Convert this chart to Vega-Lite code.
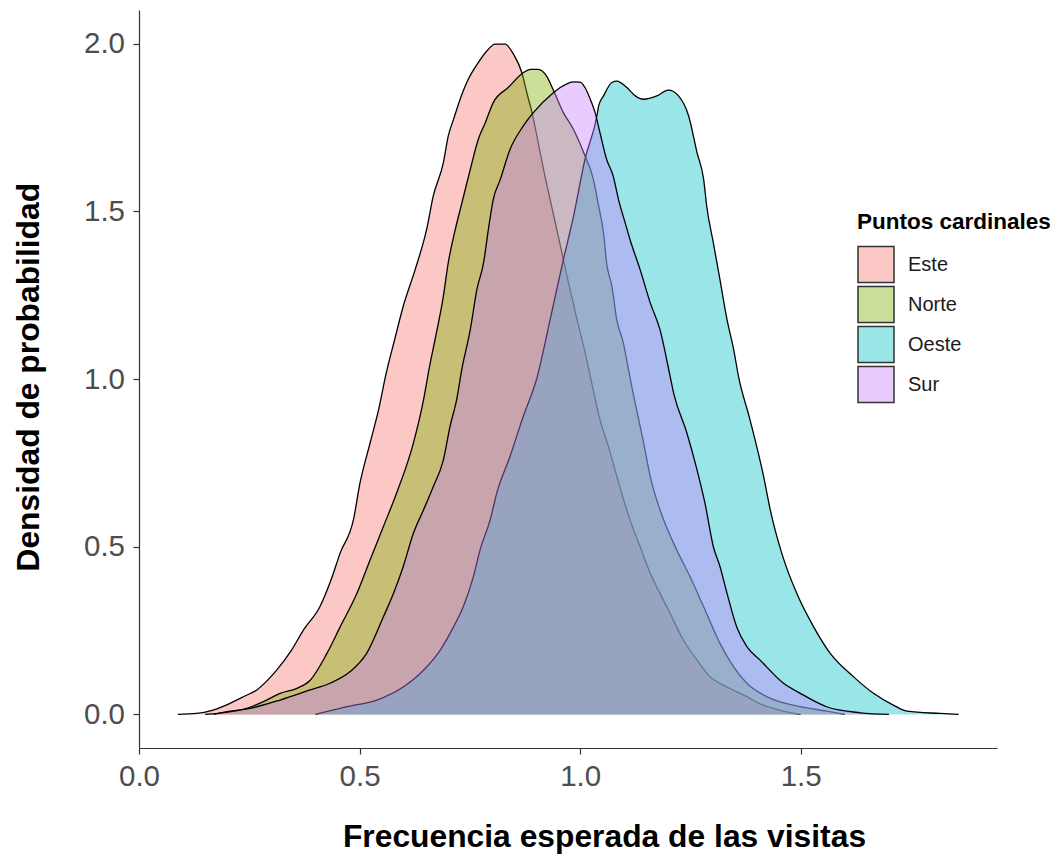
{
  "$schema": "https://vega.github.io/schema/vega-lite/v6.json",
  "autosize": {"type": "none"},
  "width": 858,
  "height": 738,
  "padding": {"left": 139, "top": 10, "right": 63, "bottom": 108},
  "background": "white",
  "config": {
    "view": {"stroke": null},
    "font": "Liberation Sans",
    "axis": {
      "grid": false,
      "domainColor": "#333333",
      "domainWidth": 1.2,
      "tickColor": "#333333",
      "tickWidth": 1.2,
      "tickSize": 6,
      "labelPadding": 8.5,
      "labelFlush": false,
      "labelFont": "Liberation Sans",
      "labelFontSize": 29.5,
      "labelColor": "#4D4D4D",
      "titleFont": "Liberation Sans",
      "titleFontSize": 31.8,
      "titleFontWeight": "bold",
      "titleColor": "#000000"
    }
  },
  "data": {
    "values": [
      {"g": "Este", "x": 0.088, "d": 0},
      {"g": "Este", "x": 0.13, "d": 0.003},
      {"g": "Este", "x": 0.168, "d": 0.013},
      {"g": "Este", "x": 0.206, "d": 0.033},
      {"g": "Este", "x": 0.24, "d": 0.055},
      {"g": "Este", "x": 0.267, "d": 0.073},
      {"g": "Este", "x": 0.29, "d": 0.1},
      {"g": "Este", "x": 0.312, "d": 0.132},
      {"g": "Este", "x": 0.345, "d": 0.19},
      {"g": "Este", "x": 0.373, "d": 0.252},
      {"g": "Este", "x": 0.41, "d": 0.321},
      {"g": "Este", "x": 0.435, "d": 0.4},
      {"g": "Este", "x": 0.456, "d": 0.481},
      {"g": "Este", "x": 0.486, "d": 0.58},
      {"g": "Este", "x": 0.501, "d": 0.69},
      {"g": "Este", "x": 0.524, "d": 0.81},
      {"g": "Este", "x": 0.543, "d": 0.908},
      {"g": "Este", "x": 0.56, "d": 1.015},
      {"g": "Este", "x": 0.58, "d": 1.12},
      {"g": "Este", "x": 0.599, "d": 1.217},
      {"g": "Este", "x": 0.626, "d": 1.326},
      {"g": "Este", "x": 0.652, "d": 1.446},
      {"g": "Este", "x": 0.667, "d": 1.545},
      {"g": "Este", "x": 0.69, "d": 1.645},
      {"g": "Este", "x": 0.701, "d": 1.724},
      {"g": "Este", "x": 0.713, "d": 1.774},
      {"g": "Este", "x": 0.732, "d": 1.849},
      {"g": "Este", "x": 0.743, "d": 1.884},
      {"g": "Este", "x": 0.769, "d": 1.943},
      {"g": "Este", "x": 0.79, "d": 1.98},
      {"g": "Este", "x": 0.807, "d": 1.998},
      {"g": "Este", "x": 0.83, "d": 1.998},
      {"g": "Este", "x": 0.849, "d": 1.968},
      {"g": "Este", "x": 0.868, "d": 1.913},
      {"g": "Este", "x": 0.879, "d": 1.854},
      {"g": "Este", "x": 0.89, "d": 1.799},
      {"g": "Este", "x": 0.902, "d": 1.724},
      {"g": "Este", "x": 0.917, "d": 1.625},
      {"g": "Este", "x": 0.932, "d": 1.535},
      {"g": "Este", "x": 0.947, "d": 1.446},
      {"g": "Este", "x": 0.962, "d": 1.356},
      {"g": "Este", "x": 0.977, "d": 1.267},
      {"g": "Este", "x": 0.993, "d": 1.177},
      {"g": "Este", "x": 1.008, "d": 1.097},
      {"g": "Este", "x": 1.023, "d": 1.008},
      {"g": "Este", "x": 1.045, "d": 0.879},
      {"g": "Este", "x": 1.064, "d": 0.799},
      {"g": "Este", "x": 1.079, "d": 0.729},
      {"g": "Este", "x": 1.094, "d": 0.66},
      {"g": "Este", "x": 1.113, "d": 0.58},
      {"g": "Este", "x": 1.136, "d": 0.5},
      {"g": "Este", "x": 1.159, "d": 0.421},
      {"g": "Este", "x": 1.181, "d": 0.361},
      {"g": "Este", "x": 1.204, "d": 0.301},
      {"g": "Este", "x": 1.234, "d": 0.222},
      {"g": "Este", "x": 1.265, "d": 0.162},
      {"g": "Este", "x": 1.295, "d": 0.112},
      {"g": "Este", "x": 1.333, "d": 0.082},
      {"g": "Este", "x": 1.378, "d": 0.053},
      {"g": "Este", "x": 1.41, "d": 0.03},
      {"g": "Este", "x": 1.438, "d": 0.018},
      {"g": "Este", "x": 1.47, "d": 0.007},
      {"g": "Este", "x": 1.5, "d": 0},

      {"g": "Norte", "x": 0.15, "d": 0},
      {"g": "Norte", "x": 0.2, "d": 0.006},
      {"g": "Norte", "x": 0.244, "d": 0.018},
      {"g": "Norte", "x": 0.282, "d": 0.038},
      {"g": "Norte", "x": 0.32, "d": 0.063},
      {"g": "Norte", "x": 0.358, "d": 0.078},
      {"g": "Norte", "x": 0.388, "d": 0.102},
      {"g": "Norte", "x": 0.426, "d": 0.182},
      {"g": "Norte", "x": 0.456, "d": 0.261},
      {"g": "Norte", "x": 0.494, "d": 0.361},
      {"g": "Norte", "x": 0.524, "d": 0.461},
      {"g": "Norte", "x": 0.554, "d": 0.56},
      {"g": "Norte", "x": 0.584, "d": 0.66},
      {"g": "Norte", "x": 0.622, "d": 0.809},
      {"g": "Norte", "x": 0.645, "d": 0.938},
      {"g": "Norte", "x": 0.659, "d": 1.04},
      {"g": "Norte", "x": 0.671, "d": 1.117},
      {"g": "Norte", "x": 0.69, "d": 1.247},
      {"g": "Norte", "x": 0.701, "d": 1.346},
      {"g": "Norte", "x": 0.717, "d": 1.446},
      {"g": "Norte", "x": 0.732, "d": 1.525},
      {"g": "Norte", "x": 0.751, "d": 1.625},
      {"g": "Norte", "x": 0.769, "d": 1.714},
      {"g": "Norte", "x": 0.785, "d": 1.764},
      {"g": "Norte", "x": 0.803, "d": 1.824},
      {"g": "Norte", "x": 0.837, "d": 1.869},
      {"g": "Norte", "x": 0.871, "d": 1.913},
      {"g": "Norte", "x": 0.887, "d": 1.923},
      {"g": "Norte", "x": 0.905, "d": 1.923},
      {"g": "Norte", "x": 0.924, "d": 1.903},
      {"g": "Norte", "x": 0.94, "d": 1.859},
      {"g": "Norte", "x": 0.962, "d": 1.794},
      {"g": "Norte", "x": 0.985, "d": 1.744},
      {"g": "Norte", "x": 1.008, "d": 1.675},
      {"g": "Norte", "x": 1.03, "d": 1.595},
      {"g": "Norte", "x": 1.042, "d": 1.515},
      {"g": "Norte", "x": 1.053, "d": 1.436},
      {"g": "Norte", "x": 1.06, "d": 1.346},
      {"g": "Norte", "x": 1.072, "d": 1.276},
      {"g": "Norte", "x": 1.083, "d": 1.177},
      {"g": "Norte", "x": 1.098, "d": 1.107},
      {"g": "Norte", "x": 1.108, "d": 1.04},
      {"g": "Norte", "x": 1.117, "d": 0.978},
      {"g": "Norte", "x": 1.144, "d": 0.809},
      {"g": "Norte", "x": 1.159, "d": 0.709},
      {"g": "Norte", "x": 1.181, "d": 0.61},
      {"g": "Norte", "x": 1.212, "d": 0.51},
      {"g": "Norte", "x": 1.249, "d": 0.411},
      {"g": "Norte", "x": 1.28, "d": 0.321},
      {"g": "Norte", "x": 1.317, "d": 0.212},
      {"g": "Norte", "x": 1.348, "d": 0.142},
      {"g": "Norte", "x": 1.378, "d": 0.093},
      {"g": "Norte", "x": 1.423, "d": 0.053},
      {"g": "Norte", "x": 1.499, "d": 0.023},
      {"g": "Norte", "x": 1.559, "d": 0.01},
      {"g": "Norte", "x": 1.6, "d": 0},

      {"g": "Oeste", "x": 0.4, "d": 0},
      {"g": "Oeste", "x": 0.471, "d": 0.023},
      {"g": "Oeste", "x": 0.539, "d": 0.043},
      {"g": "Oeste", "x": 0.599, "d": 0.082},
      {"g": "Oeste", "x": 0.645, "d": 0.132},
      {"g": "Oeste", "x": 0.683, "d": 0.192},
      {"g": "Oeste", "x": 0.713, "d": 0.261},
      {"g": "Oeste", "x": 0.735, "d": 0.321},
      {"g": "Oeste", "x": 0.758, "d": 0.411},
      {"g": "Oeste", "x": 0.773, "d": 0.49},
      {"g": "Oeste", "x": 0.796, "d": 0.58},
      {"g": "Oeste", "x": 0.811, "d": 0.66},
      {"g": "Oeste", "x": 0.841, "d": 0.769},
      {"g": "Oeste", "x": 0.871, "d": 0.888},
      {"g": "Oeste", "x": 0.902, "d": 1.003},
      {"g": "Oeste", "x": 0.932, "d": 1.177},
      {"g": "Oeste", "x": 0.962, "d": 1.356},
      {"g": "Oeste", "x": 0.985, "d": 1.485},
      {"g": "Oeste", "x": 1.011, "d": 1.655},
      {"g": "Oeste", "x": 1.038, "d": 1.784},
      {"g": "Oeste", "x": 1.042, "d": 1.814},
      {"g": "Oeste", "x": 1.053, "d": 1.844},
      {"g": "Oeste", "x": 1.072, "d": 1.884},
      {"g": "Oeste", "x": 1.083, "d": 1.888},
      {"g": "Oeste", "x": 1.106, "d": 1.869},
      {"g": "Oeste", "x": 1.125, "d": 1.844},
      {"g": "Oeste", "x": 1.144, "d": 1.834},
      {"g": "Oeste", "x": 1.174, "d": 1.844},
      {"g": "Oeste", "x": 1.2, "d": 1.861},
      {"g": "Oeste", "x": 1.223, "d": 1.844},
      {"g": "Oeste", "x": 1.246, "d": 1.784},
      {"g": "Oeste", "x": 1.265, "d": 1.675},
      {"g": "Oeste", "x": 1.28, "d": 1.595},
      {"g": "Oeste", "x": 1.287, "d": 1.515},
      {"g": "Oeste", "x": 1.302, "d": 1.406},
      {"g": "Oeste", "x": 1.317, "d": 1.296},
      {"g": "Oeste", "x": 1.333, "d": 1.177},
      {"g": "Oeste", "x": 1.348, "d": 1.088},
      {"g": "Oeste", "x": 1.359, "d": 1.008},
      {"g": "Oeste", "x": 1.385, "d": 0.879},
      {"g": "Oeste", "x": 1.416, "d": 0.709},
      {"g": "Oeste", "x": 1.431, "d": 0.61},
      {"g": "Oeste", "x": 1.457, "d": 0.481},
      {"g": "Oeste", "x": 1.491, "d": 0.361},
      {"g": "Oeste", "x": 1.529, "d": 0.262},
      {"g": "Oeste", "x": 1.567, "d": 0.182},
      {"g": "Oeste", "x": 1.62, "d": 0.112},
      {"g": "Oeste", "x": 1.665, "d": 0.063},
      {"g": "Oeste", "x": 1.71, "d": 0.028},
      {"g": "Oeste", "x": 1.741, "d": 0.01},
      {"g": "Oeste", "x": 1.816, "d": 0.003},
      {"g": "Oeste", "x": 1.858, "d": 0},

      {"g": "Sur", "x": 0.17, "d": 0},
      {"g": "Sur", "x": 0.191, "d": 0.006},
      {"g": "Sur", "x": 0.252, "d": 0.018},
      {"g": "Sur", "x": 0.32, "d": 0.043},
      {"g": "Sur", "x": 0.388, "d": 0.073},
      {"g": "Sur", "x": 0.433, "d": 0.093},
      {"g": "Sur", "x": 0.478, "d": 0.127},
      {"g": "Sur", "x": 0.516, "d": 0.182},
      {"g": "Sur", "x": 0.554, "d": 0.291},
      {"g": "Sur", "x": 0.577, "d": 0.361},
      {"g": "Sur", "x": 0.599, "d": 0.441},
      {"g": "Sur", "x": 0.622, "d": 0.54},
      {"g": "Sur", "x": 0.645, "d": 0.61},
      {"g": "Sur", "x": 0.667, "d": 0.679},
      {"g": "Sur", "x": 0.69, "d": 0.759},
      {"g": "Sur", "x": 0.705, "d": 0.858},
      {"g": "Sur", "x": 0.72, "d": 0.938},
      {"g": "Sur", "x": 0.732, "d": 1.03},
      {"g": "Sur", "x": 0.751, "d": 1.147},
      {"g": "Sur", "x": 0.766, "d": 1.267},
      {"g": "Sur", "x": 0.781, "d": 1.346},
      {"g": "Sur", "x": 0.792, "d": 1.446},
      {"g": "Sur", "x": 0.803, "d": 1.535},
      {"g": "Sur", "x": 0.819, "d": 1.595},
      {"g": "Sur", "x": 0.841, "d": 1.684},
      {"g": "Sur", "x": 0.871, "d": 1.754},
      {"g": "Sur", "x": 0.894, "d": 1.794},
      {"g": "Sur", "x": 0.94, "d": 1.854},
      {"g": "Sur", "x": 0.955, "d": 1.869},
      {"g": "Sur", "x": 0.985, "d": 1.886},
      {"g": "Sur", "x": 1.0, "d": 1.885},
      {"g": "Sur", "x": 1.011, "d": 1.869},
      {"g": "Sur", "x": 1.023, "d": 1.834},
      {"g": "Sur", "x": 1.034, "d": 1.794},
      {"g": "Sur", "x": 1.045, "d": 1.734},
      {"g": "Sur", "x": 1.06, "d": 1.655},
      {"g": "Sur", "x": 1.075, "d": 1.605},
      {"g": "Sur", "x": 1.087, "d": 1.535},
      {"g": "Sur", "x": 1.102, "d": 1.466},
      {"g": "Sur", "x": 1.113, "d": 1.416},
      {"g": "Sur", "x": 1.136, "d": 1.326},
      {"g": "Sur", "x": 1.159, "d": 1.227},
      {"g": "Sur", "x": 1.181, "d": 1.147},
      {"g": "Sur", "x": 1.204, "d": 1.008},
      {"g": "Sur", "x": 1.212, "d": 0.958},
      {"g": "Sur", "x": 1.242, "d": 0.839},
      {"g": "Sur", "x": 1.265, "d": 0.729},
      {"g": "Sur", "x": 1.283, "d": 0.63},
      {"g": "Sur", "x": 1.302, "d": 0.5},
      {"g": "Sur", "x": 1.317, "d": 0.441},
      {"g": "Sur", "x": 1.333, "d": 0.361},
      {"g": "Sur", "x": 1.355, "d": 0.261},
      {"g": "Sur", "x": 1.378, "d": 0.202},
      {"g": "Sur", "x": 1.408, "d": 0.162},
      {"g": "Sur", "x": 1.461, "d": 0.093},
      {"g": "Sur", "x": 1.499, "d": 0.063},
      {"g": "Sur", "x": 1.559, "d": 0.023},
      {"g": "Sur", "x": 1.635, "d": 0.005},
      {"g": "Sur", "x": 1.7, "d": 0}
    ]
  },
  "encoding": {
    "x": {
      "field": "x",
      "type": "quantitative",
      "scale": {"domain": [0, 1.945], "nice": false, "zero": false},
      "axis": {
        "title": "Frecuencia esperada de las visitas",
        "values": [0, 0.5, 1, 1.5],
        "format": ".1f",
        "titleX": 465,
        "titleY": 98,
        "titleAlign": "center",
        "titleBaseline": "alphabetic"
      }
    },
    "y": {
      "field": "d",
      "type": "quantitative",
      "scale": {"domain": [-0.1, 2.1], "nice": false, "zero": false},
      "axis": {
        "title": "Densidad de probabilidad",
        "values": [0, 0.5, 1, 1.5, 2],
        "format": ".1f",
        "titleAngle": -90,
        "titleX": -100.7,
        "titleY": 366.7,
        "titleAlign": "center",
        "titleBaseline": "alphabetic"
      }
    }
  },
  "layer": [
    {
      "transform": [{"filter": "datum.g === 'Este'"}],
      "mark": {"type": "area", "interpolate": "monotone", "opacity": 1},
      "encoding": {
        "y2": {"datum": 0},
        "color": {
          "field": "g",
          "type": "nominal",
          "scale": {
            "domain": ["Este", "Norte", "Oeste", "Sur"],
            "range": ["rgba(248,118,109,0.4)", "rgba(124,174,0,0.4)", "rgba(0,191,196,0.4)", "rgba(199,124,255,0.4)"]
          },
          "legend": {
            "title": "Puntos cardinales",
            "orient": "none",
            "legendX": 718,
            "legendY": 201,
            "padding": 0,
            "titleFont": "Liberation Sans",
            "titleFontSize": 22.5,
            "titleFontWeight": "bold",
            "titleColor": "#000000",
            "titleLimit": 400,
            "titlePadding": 12,
            "labelFont": "Liberation Sans",
            "labelFontSize": 20,
            "labelColor": "#1a1a1a",
            "labelOffset": 13,
            "symbolType": "square",
            "symbolSize": 1296,
            "symbolOpacity": 1,
            "symbolStrokeColor": "#333333",
            "symbolStrokeWidth": 1.5,
            "rowPadding": -2.5
          }
        }
      }
    },
    {
      "transform": [{"filter": "datum.g === 'Este'"}],
      "mark": {"type": "line", "interpolate": "monotone", "color": "#000000", "strokeWidth": 1.3}
    },
    {
      "transform": [{"filter": "datum.g === 'Norte'"}],
      "mark": {"type": "area", "interpolate": "monotone", "opacity": 1},
      "encoding": {"y2": {"datum": 0}, "color": {"field": "g", "type": "nominal"}}
    },
    {
      "transform": [{"filter": "datum.g === 'Norte'"}],
      "mark": {"type": "line", "interpolate": "monotone", "color": "#000000", "strokeWidth": 1.3}
    },
    {
      "transform": [{"filter": "datum.g === 'Oeste'"}],
      "mark": {"type": "area", "interpolate": "monotone", "opacity": 1},
      "encoding": {"y2": {"datum": 0}, "color": {"field": "g", "type": "nominal"}}
    },
    {
      "transform": [{"filter": "datum.g === 'Oeste'"}],
      "mark": {"type": "line", "interpolate": "monotone", "color": "#000000", "strokeWidth": 1.3}
    },
    {
      "transform": [{"filter": "datum.g === 'Sur'"}],
      "mark": {"type": "area", "interpolate": "monotone", "opacity": 1},
      "encoding": {"y2": {"datum": 0}, "color": {"field": "g", "type": "nominal"}}
    },
    {
      "transform": [{"filter": "datum.g === 'Sur'"}],
      "mark": {"type": "line", "interpolate": "monotone", "color": "#000000", "strokeWidth": 1.3}
    }
  ]
}
